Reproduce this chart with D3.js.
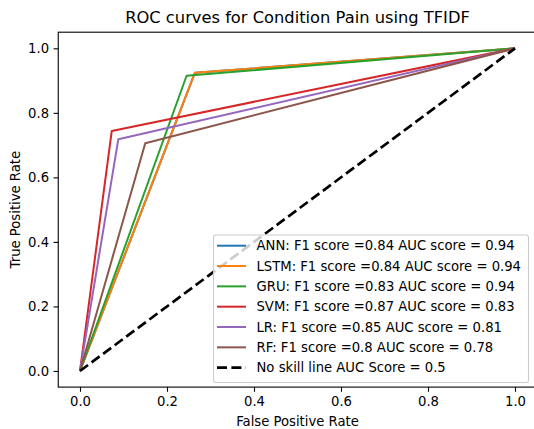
<!DOCTYPE html>
<html><head><meta charset="utf-8">
<script src="https://cdn.jsdelivr.net/npm/d3@7"></script>
<style>body{margin:0;background:#fff;} svg{display:block;font-family:"DejaVu Sans",sans-serif;}</style>
</head><body>
<svg id="c" width="534" height="429"></svg>
<script>
const models = ["ANN","LSTM","GRU","SVM","LR","RF"];
const f1Scores = ["0.84","0.84","0.83","0.87","0.85","0.8"];
const aucScores = ["0.94","0.94","0.94","0.83","0.81","0.78"];
const colors = ["#1f77b4","#ff7f0e","#2ca02c","#d62728","#9467bd","#8c564b"];
const fprValues = [[0,0.264,1],[0,0.264,1],[0,0.245,1],[0,0.073,1],[0,0.088,1],[0,0.150,1]];
const tprValues = [[0,0.924,1],[0,0.924,1],[0,0.915,1],[0,0.744,1],[0,0.718,1],[0,0.706,1]];
const noSkillFpr = [0,1];
const noSkillTpr = [0,1];
const noSkillLabel = "No skill line AUC Score = 0.5";
const tickValues = [0,0.2,0.4,0.6,0.8,1.0];

const svg = d3.select("#c");
const L = 58.25, R = 536.75, T = 32.2, B = 387.1;
const x = d3.scaleLinear().domain([-0.05,1.05]).range([L,R]);
const y = d3.scaleLinear().domain([-0.05,1.05]).range([B,T]);
const FS = 13.2;

const line = d3.line().x(d=>x(d[0])).y(d=>y(d[1]));
const g = svg.append("g");
models.forEach((m,i)=>{
  const pts = fprValues[i].map((v,j)=>[v,tprValues[i][j]]);
  g.append("path").attr("d",line(pts)).attr("fill","none").attr("stroke",colors[i])
   .attr("stroke-width",2).attr("stroke-linejoin","round");
});
g.append("path").attr("d",line(noSkillFpr.map((v,j)=>[v,noSkillTpr[j]])))
 .attr("fill","none").attr("stroke","#000").attr("stroke-width",2.7).attr("stroke-dasharray","10,4.4");

// axes
const fmt = d3.format(".1f");
const xAxis = svg.append("g").attr("transform",`translate(0,${B})`)
  .call(d3.axisBottom(x).tickValues(tickValues).tickFormat(fmt).tickSize(4.7).tickPadding(4.5));
const yAxis = svg.append("g").attr("transform",`translate(${L},0)`)
  .call(d3.axisLeft(y).tickValues(tickValues).tickFormat(fmt).tickSize(4.7).tickPadding(4.5));
[xAxis,yAxis].forEach(a=>{
  a.select(".domain").remove();
  a.selectAll("text").attr("font-size",FS).attr("font-family","DejaVu Sans").attr("fill","#000");
  a.selectAll("line").attr("stroke","#000").attr("stroke-width",1.1);
});
// spines
svg.append("rect").attr("x",L).attr("y",T).attr("width",R-L).attr("height",B-T)
  .attr("fill","none").attr("stroke","#000").attr("stroke-width",1.1);

// labels
svg.append("text").attr("x",(L+R)/2).attr("y",22.7).attr("text-anchor","middle")
  .attr("font-size",16.3).text("ROC curves for Condition Pain using TFIDF");
svg.append("text").attr("x",(L+R)/2).attr("y",425.5).attr("text-anchor","middle")
  .attr("font-size",FS).text("False Positive Rate");
svg.append("text").attr("transform",`translate(19.5,${(T+B)/2}) rotate(-90)`).attr("text-anchor","middle")
  .attr("font-size",FS).text("True Positive Rate");

// legend
const lg = svg.append("g");
const lx = 213.5, ly = 235, lw = 315, lh = 147.5;
lg.append("rect").attr("x",lx).attr("y",ly).attr("width",lw).attr("height",lh).attr("rx",2.5)
  .attr("fill","#fff").attr("fill-opacity",0.8).attr("stroke","#ccc").attr("stroke-width",1.1);
const labels = models.map((m,i)=>`${m}: F1 score =${f1Scores[i]} AUC score = ${aucScores[i]}`).concat([noSkillLabel]);
labels.forEach((t,i)=>{
  const cy = 245.7 + i*20.33;
  const isNS = i===models.length;
  lg.append("line").attr("x1",217).attr("x2",246).attr("y1",cy).attr("y2",cy)
    .attr("stroke",isNS?"#000":colors[i]).attr("stroke-width",isNS?2.7:2)
    .attr("stroke-dasharray",isNS?"10,4.4":null);
  lg.append("text").attr("x",256.5).attr("y",cy).attr("dy","0.35em").attr("font-size",FS).text(t);
});
</script>
</body></html>
